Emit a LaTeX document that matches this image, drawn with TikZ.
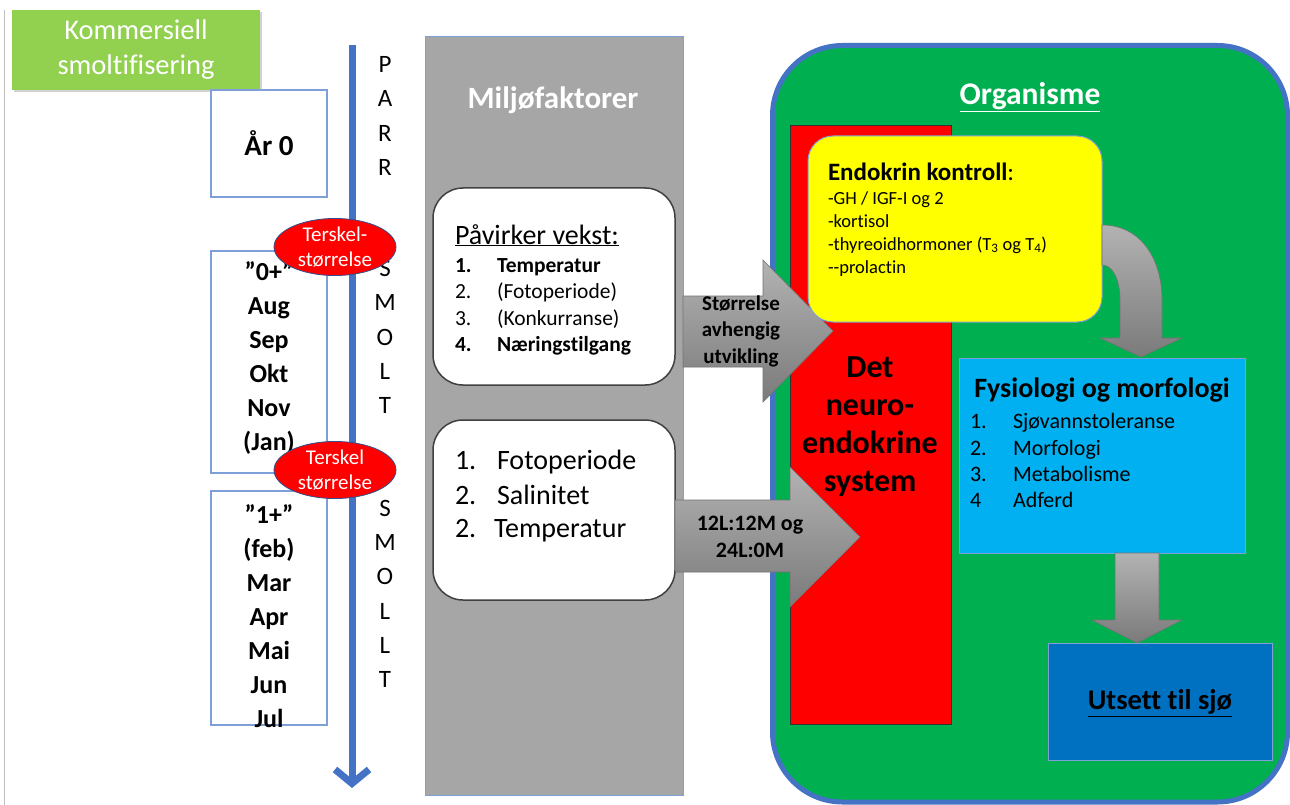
\documentclass[tikz,border=0pt]{standalone}
\usepackage{fontspec}
\setmainfont{Carlito}[Ligatures={NoCommon}]
\usetikzlibrary{shapes.geometric,shadows,arrows.meta}
\definecolor{kgreen}{HTML}{92D050}
\definecolor{lblue}{HTML}{4472C4}
\definecolor{boxblue}{HTML}{7F9FD8}
\definecolor{panelgray}{HTML}{A6A6A6}
\definecolor{orggreen}{HTML}{00B050}
\definecolor{cyanbox}{HTML}{00B0F0}
\definecolor{seablue}{HTML}{0070C0}
\definecolor{redbox}{HTML}{FF0000}
\definecolor{yel}{HTML}{FFFF00}
\newcommand{\fsz}[2]{\fontsize{#1}{#2}\selectfont}
\begin{document}
\begin{tikzpicture}[x=1pt,y=-1pt,
  every node/.style={inner sep=0pt,outer sep=0pt},
  monthbox/.style={draw=boxblue,line width=1.2pt,fill=white},
  thresh/.style={ellipse,draw=lblue!70!black,line width=0.8pt,fill=redbox,text=white,align=center,
     minimum width=122pt,minimum height=56pt,font=\fsz{21}{25}},
  letters/.style={align=center,font=\fsz{25}{34.3}},
  whitebox/.style={draw=black!75,line width=1.5pt,fill=white,rounded corners=30pt},
  blockarrow/.style={draw=black!55,line width=0.6pt,top color=black!30,bottom color=black!52},
  itm/.style={anchor=base west}]
\useasboundingbox (0,0) rectangle (1290,805);
\fill[white] (0,0) rectangle (1290,805);
\draw[black!25,line width=0.8pt] (4,10) -- (4,805);

% title box
\node[fill=kgreen,drop shadow={opacity=0.35},minimum width=248pt,minimum height=80pt,
  text=white,align=center,font=\fsz{28.5}{35}] (komm) at (136,50) {Kommersiell\\smoltifisering};

% month boxes
\draw[monthbox] (211,90) rectangle (327,197);
\node[font=\bfseries\fsz{29}{34}] (ar0) at (269,143) {År 0};
\draw[monthbox] (211,251) rectangle (327,473);
\node[align=center,font=\bfseries\fsz{26}{34}] (nullpluss) at (269,358)
  {”0+”\\Aug\\Sep\\Okt\\Nov\\(Jan)};
\draw[monthbox] (211,491) rectangle (327,725);
\node[align=center,font=\bfseries\fsz{26}{34}] (enpluss) at (269,616)
  {”1+”\\(feb)\\Mar\\Apr\\Mai\\Jun\\Jul};

% time arrow
\coordinate (vtop) at (352,45);
\coordinate (vbot) at (352,788);
\draw[lblue,line width=7pt,-{Straight Barb[length=14pt,width=34pt]}] (vtop) -- (vbot);

% stage letters
\node[letters] (parr) at (385,116) {P\\A\\R\\R};
\node[letters] (smolt) at (385,337) {S\\M\\O\\L\\T};
\node[letters] (smollt) at (385,594) {S\\M\\O\\L\\L\\T};

% thresholds
\node[thresh] (t1) at (335,247) {Terskel-\\størrelse};
\node[thresh] (t2) at (335,470) {Terskel\\størrelse};

% environment panel
\draw[draw=boxblue,line width=1pt,fill=panelgray] (425,37) rectangle (683,795);
\node[text=white,font=\bfseries\fsz{31}{36}] (milj) at (553,100) {Miljøfaktorer};

\draw[whitebox] (433,188) rectangle (675,385);
\node[itm,font=\fsz{28}{32}] (vekst) at (455,244) {\underline{Påvirker vekst:}};
\node[itm,font=\bfseries\fsz{21.5}{26}] (v1n) at (455,272) {1.};
\node[itm,font=\bfseries\fsz{21.5}{26}] (v1) at (497,272) {Temperatur};
\node[itm,font=\fsz{21.5}{26}] (v2n) at (455,298) {2.};
\node[itm,font=\fsz{21.5}{26}] (v2) at (497,298) {(Fotoperiode)};
\node[itm,font=\fsz{21.5}{26}] (v3n) at (455,325) {3.};
\node[itm,font=\fsz{21.5}{26}] (v3) at (497,325) {(Konkurranse)};
\node[itm,font=\bfseries\fsz{21.5}{26}] (v4n) at (455,351) {4.};
\node[itm,font=\bfseries\fsz{21.5}{26}] (v4) at (497,351) {Næringstilgang};

\draw[whitebox] (433,420) rectangle (675,600);
\node[itm,font=\fsz{28}{32}] (f1n) at (455,469) {1.};
\node[itm,font=\fsz{28}{32}] (f1) at (497,469) {Fotoperiode};
\node[itm,font=\fsz{28}{32}] (f2n) at (455,504) {2.};
\node[itm,font=\fsz{28}{32}] (f2) at (497,504) {Salinitet};
\node[itm,font=\fsz{28}{32}] (f3n) at (455,537) {2.};
\node[itm,font=\fsz{28}{32}] (f3) at (494,537) {Temperatur};

% organism
\draw[draw=lblue,line width=5pt,fill=orggreen,rounded corners=70pt] (772.5,45.5) rectangle (1287.5,802);
\node[text=white,font=\bfseries\fsz{31.5}{36}] (org) at (1030,97) {\underline{Organisme}};

\draw[draw=black!80,line width=1pt,fill=redbox] (790,126) rectangle (951,724);
\node[align=center,font=\bfseries\fsz{32}{38}] (neuro) at (870,427) {Det\\neuro-\\endokrine\\system};

% block arrows from environment
\draw[blockarrow] (683,296) -- (763,296) -- (763,260) -- (833,331) -- (763,402) -- (763,367) -- (683,367) -- cycle;
\node[align=center,font=\bfseries\fsz{21}{26.5}] (a1txt) at (741,331) {Størrelse\\avhengig\\utvikling};
\draw[blockarrow] (675,500) -- (790,500) -- (790,467) -- (860,537) -- (790,607) -- (790,572) -- (675,572) -- cycle;
\node[align=center,font=\bfseries\fsz{22}{27}] (a2txt) at (750,537) {12L:12M og\\24L:0M};

% endocrine control
\draw[draw=boxblue,line width=1pt,fill=yel,rounded corners=25pt] (808,136) rectangle (1102,322);
\node[itm,font=\bfseries\fsz{25}{28}] (endo) at (828,181) {Endokrin kontroll\mdseries:};
\node[itm,font=\fsz{18.5}{22}] (e1) at (828,205) {-GH / IGF-I og 2};
\node[itm,font=\fsz{18.5}{22}] (e2) at (828,228) {-kortisol};
\node[itm,font=\fsz{18.5}{22}] (e3) at (828,250) {-thyreoidhormoner (T\textsubscript{3} og T\textsubscript{4})};
\node[itm,font=\fsz{18.5}{22}] (e4) at (828,273) {-\kern0pt-prolactin};

% curved arrow
\draw[blockarrow] (1102,225) .. controls (1140,225) and (1162,258) .. (1162,300)
  -- (1162,338) -- (1182,338) -- (1141,357) -- (1100,338) -- (1120,338) -- (1120,300)
  .. controls (1120,280) and (1113,265) .. (1102,265) -- cycle;

% physiology
\draw[draw=boxblue,line width=1pt,fill=cyanbox] (959,358) rectangle (1245,553);
\node[font=\bfseries\fsz{28}{32}] (fys) at (1102,390) {Fysiologi og morfologi};
\node[itm,font=\fsz{22}{26}] (p1n) at (970,428) {1.};
\node[itm,font=\fsz{22}{26}] (p1) at (1013,428) {Sjøvannstoleranse};
\node[itm,font=\fsz{22}{26}] (p2n) at (970,455) {2.};
\node[itm,font=\fsz{22}{26}] (p2) at (1013,455) {Morfologi};
\node[itm,font=\fsz{22}{26}] (p3n) at (970,481) {3.};
\node[itm,font=\fsz{22}{26}] (p3) at (1013,481) {Metabolisme};
\node[itm,font=\fsz{22}{26}] (p4n) at (970,507) {4};
\node[itm,font=\fsz{22}{26}] (p4) at (1013,507) {Adferd};

% down arrow
\draw[blockarrow] (1115,553) -- (1159,553) -- (1159,620) -- (1182,620) -- (1137,643) -- (1092,620) -- (1115,620) -- cycle;

% release
\draw[draw=boxblue,line width=1pt,fill=seablue] (1048,643) rectangle (1272,760);
\node[font=\bfseries\fsz{28.5}{32}] (sjo) at (1160,703) {\underline{Utsett til sjø}};
\end{tikzpicture}
\end{document}
